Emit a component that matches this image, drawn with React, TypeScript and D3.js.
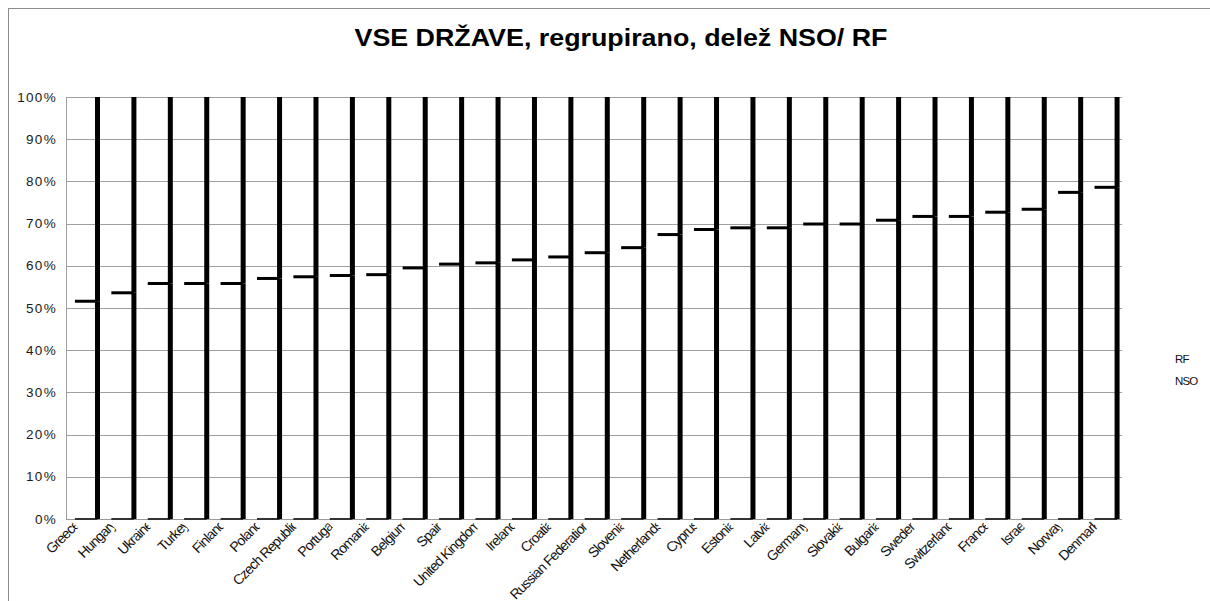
import React from "react";
import * as d3 from "d3";

const categories = [
  "Greece", "Hungary", "Ukraine", "Turkey", "Finland", "Poland", "Czech Republic",
  "Portugal", "Romania", "Belgium", "Spain", "United Kingdom", "Ireland", "Croatia",
  "Russian Federation", "Slovenia", "Netherlands", "Cyprus", "Estonia", "Latvia",
  "Germany", "Slovakia", "Bulgaria", "Sweden", "Switzerland", "France", "Israel",
  "Norway", "Denmark",
];

// share of NSO (bottom segment), percent
const nsoShare = [
  51.6, 53.6, 55.8, 55.8, 55.8, 57.0, 57.4, 57.7, 57.9, 59.5, 60.4, 60.7, 61.4, 62.1,
  63.1, 64.3, 67.4, 68.6, 69.0, 69.0, 69.9, 69.9, 70.8, 71.7, 71.7, 72.7, 73.4, 77.4, 78.6,
];

// share of RF (top segment), percent
const rfShare = [
  48.4, 46.4, 44.2, 44.2, 44.2, 43.0, 42.6, 42.3, 42.1, 40.5, 39.6, 39.3, 38.6, 37.9,
  36.9, 35.7, 32.6, 31.4, 31.0, 31.0, 30.1, 30.1, 29.2, 28.3, 28.3, 27.3, 26.6, 22.6, 21.4,
];

const yTicks = [0, 10, 20, 30, 40, 50, 60, 70, 80, 90, 100];
const legendItems = ["RF", "NSO"];
const title = "VSE DRŽAVE, regrupirano, delež NSO/ RF";

const W = 1210;
const H = 601;
const plot = { left: 66, right: 1122, top: 97, bottom: 519 };

export default function App() {
  const x = d3.scaleBand<string>().domain(categories).range([plot.left, plot.right]);
  const y = d3.scaleLinear().domain([0, 100]).range([plot.bottom, plot.top]);
  const bw = x.bandwidth();
  const font = "'Liberation Sans', Arial, sans-serif";

  const stacked = categories.map((c, i) => {
    const nso = nsoShare[i];
    const rf = rfShare[i];
    const total = nso + rf;
    return { c, nsoTop: (nso / total) * 100, rfTop: ((nso + rf) / total) * 100 };
  });

  return (
    <svg width={W} height={H} style={{ position: "absolute", left: 0, top: 0, background: "#fff" }}>
      <defs>
        <clipPath id="labelClip" clipPathUnits="userSpaceOnUse">
          <rect x={-400} y={-40} width={400} height={80} />
        </clipPath>
      </defs>
      <rect x={0} y={0} width={W} height={H} fill="#fff" />
      <rect x={8.5} y={8.5} width={W} height={H} fill="none" stroke="#8c8c8c" strokeWidth={1} />
      <text
        x={621}
        y={46}
        textAnchor="middle"
        fontFamily={font}
        fontWeight="bold"
        fontSize={24}
        textLength={533}
        lengthAdjust="spacingAndGlyphs"
        fill="#000"
      >
        {title}
      </text>

      {/* grid */}
      {yTicks.map((t) => (
        <g key={t}>
          <line
            x1={plot.left}
            x2={plot.right}
            y1={Math.round(y(t)) + 0.5}
            y2={Math.round(y(t)) + 0.5}
            stroke={t === 0 ? "#9a9a9a" : "#a0a0a0"}
            strokeWidth={1}
          />
          <text
            x={57}
            y={y(t) + 4.5}
            textAnchor="end"
            fontFamily={font}
            fontSize={13.5}
            letterSpacing={1.3}
            fill="#1a1a1a"
          >
            {t}%
          </text>
        </g>
      ))}
      <line x1={plot.left + 0.5} x2={plot.left + 0.5} y1={plot.top} y2={plot.bottom} stroke="#a0a0a0" />

      {/* bars: only the top and right edges are drawn */}
      {stacked.map((d) => {
        const x0 = x(d.c)! + bw * 0.245;
        const x1 = x(d.c)! + bw * 0.865;
        return (
          <g key={d.c}>
            <line x1={x0} x2={x1} y1={plot.bottom} y2={plot.bottom} stroke="#333" strokeWidth={2} />
            <line x1={x0} x2={x1} y1={y(d.nsoTop)} y2={y(d.nsoTop)} stroke="#000" strokeWidth={3} />
            <line x1={x1} x2={x1} y1={y(0)} y2={y(d.nsoTop)} stroke="#000" strokeWidth={5} />
            <line x1={x1} x2={x1} y1={y(d.nsoTop)} y2={y(d.rfTop)} stroke="#000" strokeWidth={5} />
          </g>
        );
      })}

      {/* category labels (clipped at the end as in the source) */}
      {categories.map((c) => {
        const cx = x(c)! + bw / 2 - 6;
        const cy = 528;
        return (
          <g key={c} transform={`translate(${cx},${cy}) rotate(-45)`}>
            <text
              x={3}
              textAnchor="end"
              fontFamily={font}
              fontSize={14}
              letterSpacing={-0.9}
              fill="#111"
              clipPath="url(#labelClip)"
            >
              {c}
            </text>
          </g>
        );
      })}

      {/* legend */}
      {legendItems.map((l, i) => (
        <text
          key={l}
          x={1175}
          y={363 + i * 22}
          fontFamily={font}
          fontSize={11.5}
          letterSpacing={-0.9}
          fill="#111"
        >
          {l}
        </text>
      ))}
    </svg>
  );
}
